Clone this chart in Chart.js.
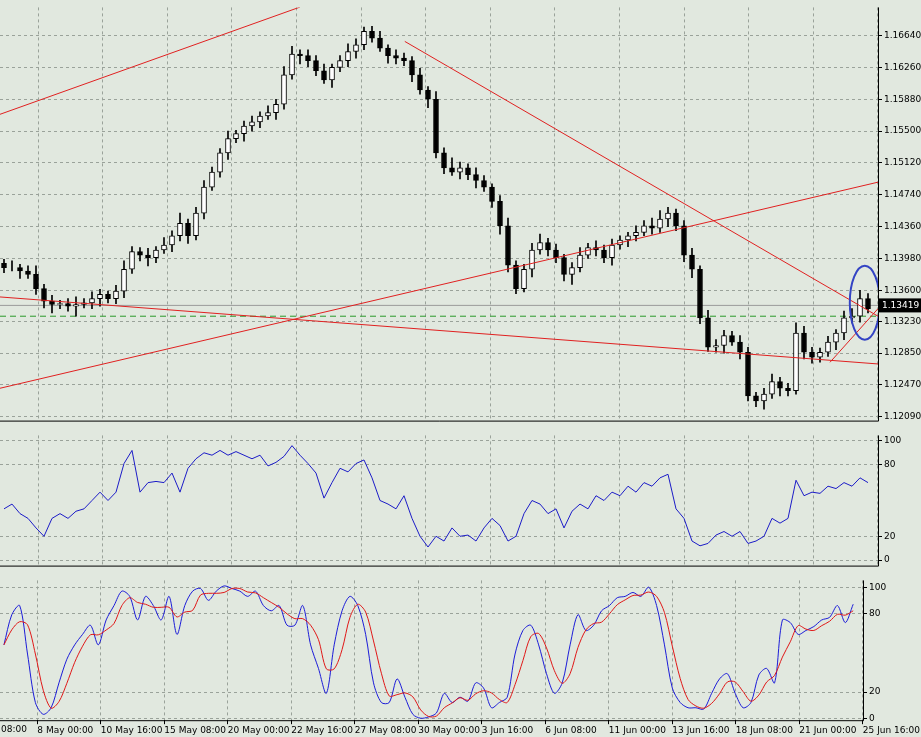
<!DOCTYPE html>
<html><head><meta charset="utf-8">
<script src="https://cdn.jsdelivr.net/npm/chart.js@4"></script>
<style>
body{margin:0;background:#e1e8df;width:921px;height:737px;overflow:hidden;position:relative;font-family:"DejaVu Sans",sans-serif}
canvas{position:absolute;left:0}
</style></head><body>
<canvas id="c1" style="top:0"></canvas>
<canvas id="c2" style="top:428px"></canvas>
<canvas id="c3" style="top:573px"></canvas>
<script>
const closes=[1.1387,1.1387,1.1383,1.1379,1.1362,1.1347,1.1343,1.1344,1.1341,1.1343,1.1345,1.1350,1.1355,1.1350,1.1359,1.1385,1.1406,1.1402,1.1399,1.1408,1.1414,1.1425,1.1440,1.1425,1.1452,1.1483,1.1501,1.1524,1.1541,1.1547,1.1556,1.1561,1.1568,1.1572,1.1582,1.1617,1.1642,1.1640,1.1634,1.1622,1.1611,1.1626,1.1634,1.1645,1.1653,1.1669,1.1661,1.1649,1.1640,1.1637,1.1634,1.1617,1.1599,1.1588,1.1524,1.1506,1.1501,1.1506,1.1498,1.1491,1.1483,1.1466,1.1437,1.1390,1.1362,1.1385,1.1408,1.1417,1.1408,1.1399,1.1379,1.1387,1.1402,1.1411,1.1408,1.1399,1.1414,1.1420,1.1425,1.1429,1.1437,1.1434,1.1445,1.1452,1.1437,1.1402,1.1385,1.1327,1.1292,1.1294,1.1306,1.1298,1.1286,1.1234,1.1228,1.1236,1.1251,1.1243,1.1240,1.1309,1.1286,1.1280,1.1286,1.1298,1.1309,1.1327,1.1329,1.1350,1.1338];
const firstOpen=1.1392;
const wickUp=[5,8,4,6,10,5,7,4,6,9,5,8,6,4,7,10,6,5,8,4,9,6,12,5,7,8,6,5,9,4,6,7,5,8,6,10,9,5,7,6,8,4,6,9,7,5,6,8,4,7,6,5,8,4,9,6,12,7,5,8,6,4,7,9,5,6,8,10,5,7,4,6,9,5,8,6,7,5,4,8,6,9,10,7,5,6,8,4,9,7,6,5,8,6,4,7,9,5,6,12,8,6,5,7,4,8,9,10,6];
const wickDn=[6,4,9,5,7,8,10,5,6,12,4,7,9,5,6,8,5,7,10,6,4,8,6,9,5,7,4,6,8,5,9,6,7,4,8,6,5,10,7,6,4,9,5,7,8,6,5,4,9,7,6,8,5,10,6,7,4,8,6,9,5,7,10,8,6,4,9,5,7,6,8,12,5,4,7,6,9,5,8,6,4,7,5,9,6,8,10,7,5,6,9,4,8,6,7,10,5,9,6,4,8,7,6,5,9,8,6,7,5];
const rsi=[43,47,39,35,27,20,35,39,35,41,43,50,57,50,57,81,92,57,65,66,65,73,57,77,85,90,88,92,88,91,88,85,88,79,82,87,96,88,81,73,52,65,77,74,81,84,69,50,47,43,54,35,20,11,20,16,27,20,21,16,27,35,29,16,20,39,50,47,39,43,27,41,47,43,54,50,57,54,62,57,65,62,69,72,43,35,16,12,14,21,24,20,24,14,16,20,35,31,35,67,54,57,56,62,60,65,62,69,65];
const stoch=[56,79,86,49,12,3,8,27,45,56,64,71,56,75,86,97,93,75,93,86,75,93,64,86,97,99,90,97,101,99,97,93,97,86,82,86,71,71,86,56,38,19,56,82,93,86,64,27,12,12,30,16,3,0,1,4,19,12,16,13,27,23,8,12,16,49,67,71,56,34,19,27,56,79,67,71,82,86,92,93,96,93,100,86,56,23,12,8,8,7,19,30,34,19,8,12,33,38,27,75,73,64,67,70,75,77,86,73,87];
const priceTicks=[1.16640,1.16260,1.15880,1.15500,1.15120,1.14740,1.14360,1.13980,1.13600,1.13230,1.12850,1.12470,1.12090];
const timeLabels=["8 May 00:00","10 May 16:00","15 May 08:00","20 May 00:00","22 May 16:00","27 May 08:00","30 May 00:00","3 Jun 16:00","6 Jun 08:00","11 Jun 00:00","13 Jun 16:00","18 Jun 08:00","21 Jun 00:00","25 Jun 16:00"];
const firstLabel="08:00";
const lastPrice=1.13419, bidLine=1.1329;
const trendLines=[[[-0.5,1.1570],[37,1.1698]],[[50.1,1.1657],[109.25,1.1329]],[[-0.5,1.1243],[109.25,1.1489]],[[-0.5,1.1352],[109.25,1.1272]],[[103.25,1.1274],[109.25,1.1338]]];

const BG='#e1e8df', GRID='#9aa29a', FONT={family:'DejaVu Sans',size:9};
const W=921, XMIN=-0.5, XMAX=109.25;
const gridTicks=timeLabels.map((t,k)=>4.25+8.075*k);
const opens=closes.map((c,i)=>i?closes[i-1]:firstOpen);
const idx=closes.map((c,i)=>i);
const bodies=idx.map(i=>({x:i,y:[opens[i],closes[i]]}));
const wicks=idx.map(i=>({x:i,y:[Math.min(opens[i],closes[i])-(wickDn[i]||5)*1e-4,Math.max(opens[i],closes[i])+(wickUp[i]||5)*1e-4]}));
const sig=stoch.map((v,i)=>{const a=stoch.slice(Math.max(0,i-2),i+1);return a.reduce((s,x)=>s+x,0)/a.length;});

function xScale(show){return {type:'linear',min:XMIN,max:XMAX,offset:false,
  afterBuildTicks:s=>{s.ticks=gridTicks.map(v=>({value:v}));},
  afterFit:s=>{if(!show)s.height=0;},
  grid:{color:GRID,offset:false,tickLength:show?4:0,drawTicks:show,tickColor:'#000'},border:{display:false,dash:[3,3]},
  ticks:{display:show,maxRotation:0,autoSkip:false,align:'start',padding:1,color:'#000',font:FONT,callback:(v,k)=>timeLabels[k]}};}
function yScale(min,max,ticks,fmt){return {position:'right',min,max,
  afterBuildTicks:s=>{s.ticks=ticks.map(v=>({value:v}));},
  afterFit:s=>{s.width=43;},
  grid:{color:GRID,drawTicks:true,tickLength:4,tickColor:'#000'},border:{display:false,dash:[3,3]},
  ticks:{color:'#000',font:FONT,padding:2,callback:fmt}};}
const bgPlugin={id:'bg',beforeDraw(c){const x=c.ctx;x.save();x.fillStyle=BG;x.fillRect(0,0,c.width,c.height);x.restore();},
  afterDraw(c){const x=c.ctx,a=c.chartArea;x.save();x.strokeStyle='#000';x.lineWidth=1;x.beginPath();x.moveTo(0,a.bottom+0.5);x.lineTo(a.right+0.5,a.bottom+0.5);x.lineTo(a.right+0.5,a.top);x.stroke();
   if(c.canvas.id==='c3'){x.fillStyle='#000';x.font='9px DejaVu Sans';x.textBaseline='top';x.fillText(firstLabel,1,a.bottom+5);}
   x.restore();}};
Chart.defaults.animation=false;Chart.defaults.font.family='DejaVu Sans';

function setup(id,h){const c=document.getElementById(id);c.width=W;c.height=h;c.style.width=W+'px';c.style.height=h+'px';return c;}

const mainPlugin={id:'mp',afterDatasetsDraw(c){
  const x=c.ctx,sx=c.scales.x,sy=c.scales.y,a=c.chartArea;
  x.save();x.beginPath();x.rect(a.left,a.top,a.right-a.left,a.bottom-a.top);x.clip();
  x.strokeStyle='#e02020';x.lineWidth=1;
  trendLines.forEach(l=>{x.beginPath();x.moveTo(sx.getPixelForValue(l[0][0]),sy.getPixelForValue(l[0][1]));x.lineTo(sx.getPixelForValue(l[1][0]),sy.getPixelForValue(l[1][1]));x.stroke();});
  x.strokeStyle='#3444c4';x.lineWidth=2;x.beginPath();x.ellipse(sx.getPixelForValue(107.6),sy.getPixelForValue(1.1345),15,37,0,0,Math.PI*2);x.stroke();
  x.restore();
  const py=sy.getPixelForValue(lastPrice);x.save();x.fillStyle='#000';x.fillRect(a.right+1,py-7,43,14);x.fillStyle='#fff';x.font='9px DejaVu Sans';x.textBaseline='middle';x.fillText('1.13419',a.right+4,py);x.restore();}};

new Chart(setup('c1',428),{type:'bar',plugins:[bgPlugin,mainPlugin],
 data:{datasets:[
  {type:'line',data:[{x:XMIN,y:lastPrice},{x:XMAX,y:lastPrice}],borderColor:'#9a9a9a',borderWidth:1,pointRadius:0,order:5},
  {type:'line',data:[{x:XMIN,y:bidLine},{x:XMAX,y:bidLine}],borderColor:'#2a9a2a',borderDash:[6,4],borderWidth:1,pointRadius:0,order:5},
  {data:wicks,backgroundColor:'#000',barThickness:1,grouped:false,order:3},
  {data:bodies,backgroundColor:idx.map(i=>closes[i]>=opens[i]?'#fff':'#000'),borderColor:'#000',borderWidth:1,borderSkipped:false,barThickness:5,grouped:false,order:1}]},
 options:{responsive:false,layout:{padding:0},plugins:{legend:{display:false},tooltip:{enabled:false}},
  scales:{x:xScale(false),y:yScale(1.12044,1.16976,priceTicks,v=>v.toFixed(5))}}});

new Chart(setup('c2',145),{type:'line',plugins:[bgPlugin],
 data:{datasets:[{data:idx.map(i=>({x:i,y:rsi[i]})),borderColor:'#1c1cc8',borderWidth:1,pointRadius:0,tension:0}]},
 options:{responsive:false,layout:{padding:0},plugins:{legend:{display:false},tooltip:{enabled:false}},
  scales:{x:xScale(false),y:yScale(-4.6,104.6,[0,20,80,100],v=>String(v))}}});

new Chart(setup('c3',164),{type:'line',plugins:[bgPlugin],
 data:{datasets:[
  {data:idx.map(i=>({x:i,y:sig[i]})),borderColor:'#e01818',borderWidth:1,pointRadius:0,tension:0.3},
  {data:idx.map(i=>({x:i,y:stoch[i]})),borderColor:'#1c1cd8',borderWidth:1,pointRadius:0,tension:0.3}]},
 options:{responsive:false,layout:{padding:0},plugins:{legend:{display:false},tooltip:{enabled:false}},
  scales:{x:xScale(true),y:yScale(-1.5,105.2,[0,20,80,100],v=>String(v))}}});
</script></body></html>
